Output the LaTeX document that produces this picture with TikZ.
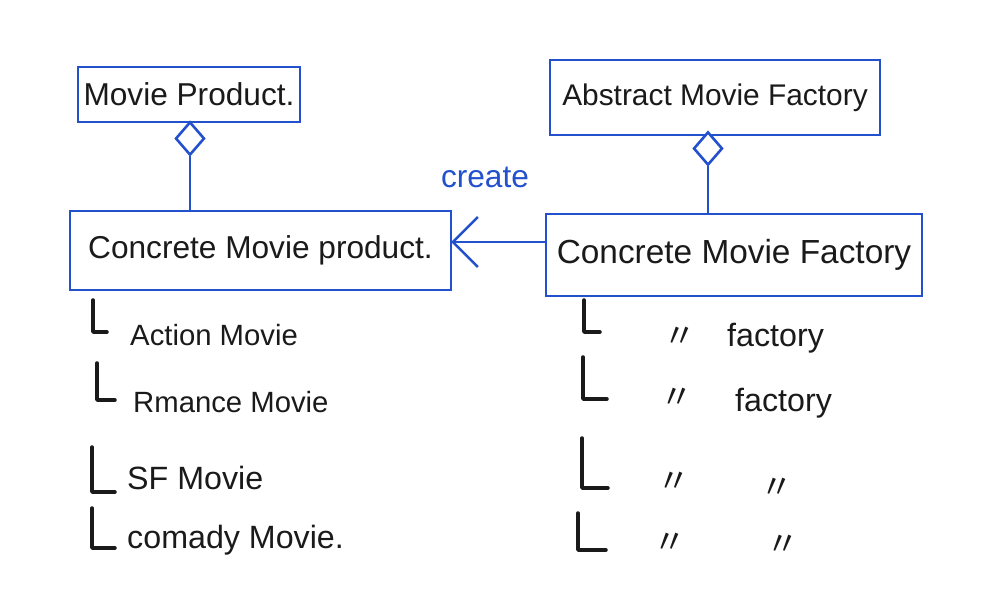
\documentclass[tikz,border=0pt]{standalone}
\usepackage{fontspec}
\setmainfont{Liberation Sans}
\newfontfamily\cjkfont{Noto Sans CJK JP}
\usetikzlibrary{arrows.meta,shapes.geometric}
\definecolor{penblue}{HTML}{2350CC}
\definecolor{ink}{HTML}{1A1A1A}
\begin{document}
\begin{tikzpicture}[x=0.03cm,y=-0.03cm,
  cls/.style={draw=penblue,line width=2.2pt,inner sep=0pt,text=ink,font=\fontsize{27}{30}\selectfont},
  item/.style={anchor=west,text=ink,inner sep=0pt,font=\fontsize{25}{28}\selectfont},
  bigitem/.style={item,font=\fontsize{27.5}{30}\selectfont},
  ditto/.style={text=ink,inner sep=0pt,font=\cjkfont\fontsize{28}{30}\selectfont},
  tick/.style={draw=ink,line width=3pt,line cap=round,line join=round},
  link/.style={draw=penblue,line width=2.2pt},
  diam/.style={diamond,draw=penblue,line width=2.2pt,fill=white,minimum width=0.87cm,minimum height=1.0cm,inner sep=0pt}]
\useasboundingbox (0,0) rectangle (1002,612);
% boxes
\node[cls,minimum width=6.66cm,minimum height=1.65cm] (mp) at (189,94.5) {Movie Product.};
\node[cls,minimum width=9.9cm,minimum height=2.25cm,font=\fontsize{25.5}{28}\selectfont] (amf) at (715,97.5) {Abstract Movie Factory};
\node[cls,minimum width=11.43cm,minimum height=2.37cm] (cmp) at (260.5,250.5) {Concrete Movie product.};
\node[cls,minimum width=11.28cm,minimum height=2.46cm,font=\fontsize{28.5}{31}\selectfont] (cmf) at (734,255) {Concrete Movie Factory};
% diamonds
\node[diam] (d1) at (190,138.5) {};
\node[diam] (d2) at (708,148.5) {};
\draw[link] (d1.south) -- (cmp.north -| d1.south);
\draw[link] (d2.south) -- (cmf.north -| d2.south);
% create arrow
\coordinate (ae) at (451,242);
\draw[link,-{Straight Barb[length=0.75cm,width=1.5cm,line width=2.2pt]}] (cmf.west |- ae) -- (ae);
\node[text=penblue,font=\fontsize{27}{30}\selectfont,inner sep=0pt] (cr) at (485,177) {create};
% left list
\draw[tick] (93,300) -- (93,332) -- (107,332);
\draw[tick] (97,363) -- (97,400) -- (115,400);
\draw[tick] (92,447) -- (92,492) -- (115,492);
\draw[tick] (92,508) -- (92,548) -- (115,548);
\node[item] (l1) at (130,335) {Action Movie};
\node[item] (l2) at (133,402) {Rmance Movie};
\node[bigitem] (l3) at (127,478) {SF Movie};
\node[bigitem] (l4) at (127,540) {comady Movie.};
% right list
\draw[tick] (584,300) -- (584,332) -- (600,332);
\draw[tick] (583,357) -- (583,399) -- (607,399);
\draw[tick] (582,438) -- (582,488) -- (608,488);
\draw[tick] (578,513) -- (578,550) -- (606,550);
\node[ditto] (r1a) at (680,337) {〃};
\node[ditto] (r2a) at (677,398) {〃};
\node[ditto] (r3a) at (674,482) {〃};
\node[ditto] (r4a) at (670,543) {〃};
\node[ditto] (r3b) at (777,488) {〃};
\node[ditto] (r4b) at (783,545) {〃};
\node[bigitem] (r1b) at (727,338) {factory};
\node[bigitem] (r2b) at (735,403) {factory};
\end{tikzpicture}
\end{document}
